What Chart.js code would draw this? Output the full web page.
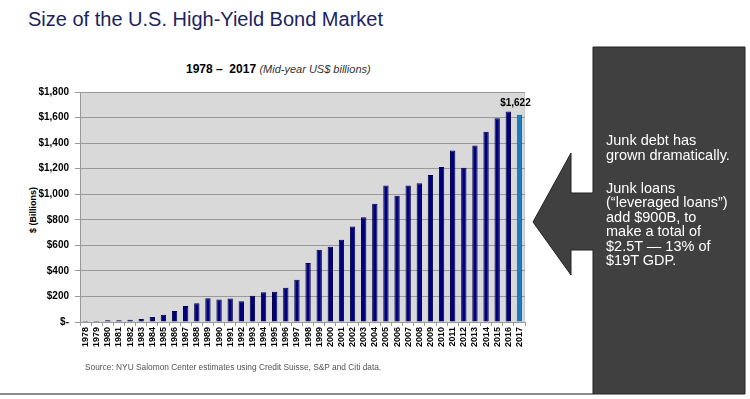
<!DOCTYPE html>
<html>
<head>
<meta charset="utf-8">
<script src="https://cdn.jsdelivr.net/npm/chart.js@4.4.0/dist/chart.umd.min.js"></script>
<style>
  html, body { margin:0; padding:0; background:#fff; }
  body { width:750px; height:399px; position:relative; overflow:hidden; font-family:"Liberation Sans", Arial, sans-serif; }
  #wrap { position:absolute; left:0; top:0; width:750px; height:399px; }
  .title { position:absolute; left:28px; top:8px; font-size:20px; color:#1B2461; white-space:nowrap; }
  .sub { position:absolute; left:186px; top:62px; font-size:12px; font-weight:bold; color:#000; white-space:nowrap; }
  .sub i { font-weight:normal; font-size:11px; color:#333; }
  .ytitle { position:absolute; left:33px; top:210px; transform:translate(-50%,-50%) rotate(-90deg); font-size:9px; font-weight:bold; white-space:nowrap; }
  .source { position:absolute; left:85px; top:362px; font-size:8.35px; color:#555; white-space:nowrap; }
  .hline { position:absolute; left:0; top:393px; width:593px; height:2px; background:#8c8c8c; }
  svg.shape { position:absolute; left:0; top:0; }
  .boxtext { position:absolute; left:606px; top:133px; font-size:14.5px; line-height:14.5px; color:#fff; white-space:nowrap; }
  .gap { height:18.5px; }
</style>
</head>
<body>
<div class="title">Size of the U.S. High-Yield Bond Market</div>
<div class="sub">1978 –&nbsp; 2017 <i>(Mid-year US$ billions)</i></div>
<div class="ytitle">$ (Billions)</div>
<div id="wrap"><canvas id="c" width="750" height="399"></canvas></div>
<div class="source">Source: NYU Salomon Center estimates using Credit Suisse, S&amp;P and Citi data.</div>
<div class="hline"></div>
<svg class="shape" width="750" height="399">
  <polygon points="533,222 571,153 571,193 593,193 593,47 745,47 745,394 593,394 593,250 571,250 571,275" fill="#404040" stroke="#222" stroke-width="1"/>
</svg>
<div class="boxtext">Junk debt has<br>grown dramatically.<div class="gap"></div>Junk loans<br>(“leveraged loans”)<br>add $900B, to<br>make a total of<br>$2.5T — 13% of<br>$19T GDP.</div>
<script>
const years = ["1978","1979","1980","1981","1982","1983","1984","1985","1986","1987","1988","1989","1990","1991","1992","1993","1994","1995","1996","1997","1998","1999","2000","2001","2002","2003","2004","2005","2006","2007","2008","2009","2010","2011","2012","2013","2014","2015","2016","2017"];
const sizeBillions = [8,8,13,13,18,23,39,57,86,125,146,185,177,183,162,206,232,237,269,331,462,566,589,644,748,819,926,1069,988,1069,1085,1150,1213,1343,1207,1382,1489,1594,1648,1622];
const yTicks = [0,200,400,600,800,1000,1200,1400,1600,1800];
const labeledYear = "2017";

const navy = "#00007E", navyEdge = "#000045", blue = "#1E7CC4", blueEdge = "#0F5A96";
const fmt = v => v === 0 ? "$-" : "$" + v.toLocaleString("en-US");

const bgPlugin = {
  id: "bg",
  beforeDraw(chart) {
    const {ctx, chartArea:a} = chart;
    ctx.save();
    ctx.fillStyle = "#D9D9D9";
    ctx.fillRect(a.left, a.top, a.right - a.left, a.bottom - a.top);
    ctx.strokeStyle = "#C8C8C8";
    ctx.lineWidth = 1;
    ctx.strokeRect(a.left + 0.5, a.top + 0.5, a.right - a.left - 1, a.bottom - a.top);
    ctx.restore();
  }
};
const labelPlugin = {
  id: "lbl",
  afterDatasetsDraw(chart) {
    const {ctx} = chart;
    const meta = chart.getDatasetMeta(0);
    const i = years.indexOf(labeledYear);
    const el = meta.data[i];
    ctx.save();
    ctx.font = "bold 10px 'Liberation Sans', Arial, sans-serif";
    ctx.fillStyle = "#000";
    ctx.textAlign = "center";
    ctx.textBaseline = "bottom";
    ctx.fillText(fmt(sizeBillions[i]), el.x - 4, el.y - 6);
    ctx.restore();
  }
};

new Chart(document.getElementById("c"), {
  type: "bar",
  data: {
    labels: years,
    datasets: [{
      data: sizeBillions,
      backgroundColor: years.map(y => y === labeledYear ? blue : navy),
      borderColor: years.map(y => y === labeledYear ? blueEdge : navyEdge),
      borderWidth: 1,
      barPercentage: 0.48,
      categoryPercentage: 1.0
    }]
  },
  options: {
    responsive: false,
    animation: false,
    devicePixelRatio: 1,
    layout: { padding: { left: 10, top: 92, right: 225, bottom: 47 } },
    plugins: { legend: { display:false }, tooltip: { enabled:false } },
    scales: {
      x: {
        afterFit: s => { s.height = 30; },
        grid: { display: true, drawOnChartArea: false, color: "#999", tickLength: 4, offset: true },
        border: { color: "#999" },
        ticks: {
          autoSkip: false, maxRotation: 90, minRotation: 90, padding: 1,
          color: "#000", font: { family: "'Liberation Sans', Arial, sans-serif", size: 9, weight: "bold" }
        }
      },
      y: {
        min: 0, max: 1800,
        afterFit: s => { s.width = 70; },
        afterBuildTicks: s => { s.ticks = yTicks.map(v => ({value:v})); },
        grid: { color: "#999", lineWidth: 1, tickLength: 5 },
        border: { color: "#999" },
        ticks: {
          padding: 6,
          color: "#000",
          font: { family: "'Liberation Sans', Arial, sans-serif", size: 10, weight: "bold" },
          callback: v => fmt(v)
        }
      }
    }
  },
  plugins: [bgPlugin, labelPlugin]
});
</script>
</body>
</html>
